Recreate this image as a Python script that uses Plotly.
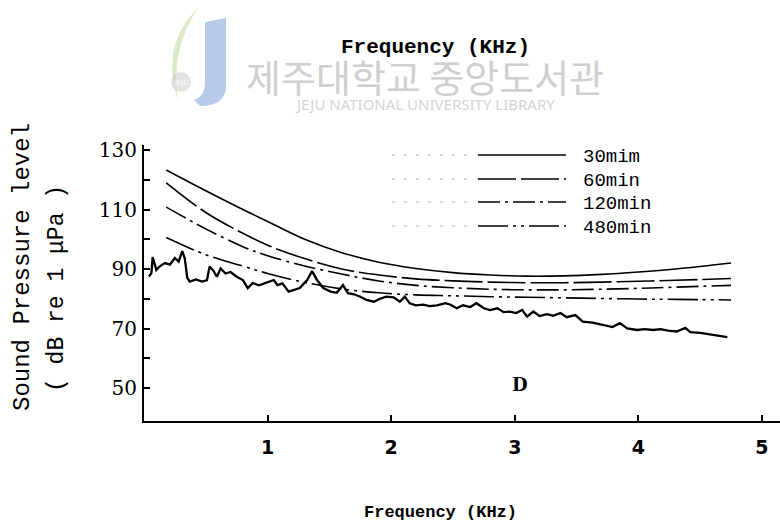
import plotly.graph_objects as go

# ---- exposure criterion curves (frequency in kHz, level in dB re 1 uPa) ----
crit_freq = [0.18, 0.5, 0.8, 1.0, 1.3, 1.6, 1.9, 2.2, 2.5, 2.8, 3.1, 3.4, 3.7, 4.0, 4.3, 4.75]
spl_30min = [123.3, 116.3, 110.0, 106.0, 100.0, 95.5, 92.3, 90.2, 88.8, 88.0, 87.6, 87.7, 88.2, 89.0, 90.0, 92.0]
spl_60min = [119.0, 109.0, 102.0, 98.0, 93.5, 90.0, 88.0, 86.7, 86.0, 85.6, 85.4, 85.4, 85.6, 85.9, 86.2, 86.8]
spl_120min = [110.8, 103.5, 97.5, 94.5, 91.0, 88.3, 86.0, 84.5, 83.7, 83.2, 83.0, 83.0, 83.2, 83.5, 83.9, 84.5]
spl_480min = [100.6, 94.8, 91.0, 88.5, 85.5, 83.3, 82.0, 81.3, 81.0, 80.7, 80.5, 80.3, 80.1, 79.9, 79.8, 79.6]

# ---- measured noise spectrum ----
noise_freq = [0.04, 0.06, 0.07, 0.10, 0.13, 0.17, 0.21, 0.25, 0.28, 0.31, 0.33, 0.35,
              0.37, 0.42, 0.47, 0.51, 0.53, 0.56, 0.59, 0.62, 0.66, 0.70, 0.75, 0.80,
              0.84, 0.88, 0.93, 0.99, 1.05, 1.08, 1.12, 1.17, 1.21, 1.26, 1.32, 1.36,
              1.40, 1.45, 1.51, 1.56, 1.61, 1.65, 1.70, 1.75, 1.80, 1.86, 1.91, 1.96,
              2.02, 2.07, 2.11, 2.15, 2.20, 2.26, 2.31, 2.37, 2.44, 2.48, 2.53, 2.58,
              2.64, 2.69, 2.75, 2.80, 2.86, 2.91, 2.96, 3.01, 3.06, 3.10, 3.15, 3.20,
              3.26, 3.31, 3.37, 3.42, 3.49, 3.55, 3.63, 3.72, 3.79, 3.85, 3.91, 3.99,
              4.05, 4.12, 4.18, 4.24, 4.31, 4.38, 4.42, 4.50, 4.58, 4.66, 4.72]
noise_spl = [87.5, 88.6, 94.0, 89.7, 91.0, 92.0, 91.5, 93.7, 92.5, 96.0, 93.5, 87.0,
             85.8, 86.5, 85.8, 86.3, 90.8, 89.5, 87.4, 90.2, 88.5, 89.0, 87.4, 86.3,
             83.6, 85.3, 84.5, 85.3, 86.3, 84.6, 85.2, 82.4, 83.0, 83.6, 86.3, 89.3,
             86.3, 83.6, 82.4, 82.0, 84.6, 81.9, 81.5, 80.7, 79.6, 79.0, 80.0, 80.7,
             80.5, 79.0, 80.7, 78.5, 77.8, 78.0, 77.5, 77.8, 78.5, 78.0, 76.8, 77.8,
             77.2, 78.5, 76.8, 76.2, 76.8, 75.5, 75.7, 75.2, 76.2, 74.0, 75.7, 74.2,
             74.8, 74.3, 75.2, 73.8, 74.5, 72.3, 72.0, 71.2, 70.5, 71.8, 70.0, 69.5,
             69.8, 69.5, 69.8, 69.3, 69.0, 70.2, 68.8, 68.5, 68.0, 67.5, 67.1]

legend_labels = ["30mim", "60min", "120min", "480min"]
x_ticks = [1, 2, 3, 4, 5]
y_ticks = [50, 60, 70, 80, 90, 100, 110, 120, 130]
y_ticktext = ["50", "", "70", "", "90", "", "110", "", "130"]

W, H = 780, 530
ML, MR, MT, MB = 144, 0, 145, 109
PW, PH = W - ML - MR, H - MT - MB


def fx(px):
    """page pixel -> paper x"""
    return (px - ML) / PW


def fy(py):
    """page pixel -> paper y"""
    return (H - MB - py) / PH


def label(px, py, text, font, xanchor="center", **kw):
    return dict(x=fx(px), y=fy(py), xref="paper", yref="paper", text=text,
                showarrow=False, xanchor=xanchor, yanchor="middle", font=font, **kw)


dashes = ["solid", "38px,5px", "22px,5px,3px,5px", "30px,5px,3px,5px,3px,5px"]
series = [spl_30min, spl_60min, spl_120min, spl_480min]

fig = go.Figure()
for lbl, vals, d in zip(legend_labels, series, dashes):
    fig.add_trace(go.Scatter(x=crit_freq, y=vals, mode="lines", name=lbl,
                             line=dict(color="black", width=1.6, dash=d, shape="spline"),
                             showlegend=False))

fig.add_trace(go.Scatter(x=noise_freq, y=noise_spl, mode="lines", name="D",
                         line=dict(color="black", width=2.3), showlegend=False))

shapes = []
annotations = []

# library watermark (logo + text), drawn faintly behind the chart
shapes.append(dict(type="path", xref="paper", yref="paper", layer="below",
                   path=f"M {fx(205)} {fy(22)} L {fx(226)} {fy(18)} L {fx(226)} {fy(88)} "
                        f"Q {fx(224)} {fy(106)} {fx(200)} {fy(106)} L {fx(194)} {fy(100)} "
                        f"Q {fx(206)} {fy(96)} {fx(205)} {fy(80)} Z",
                   fillcolor="rgba(120,160,215,0.55)", line=dict(width=0)))
shapes.append(dict(type="path", xref="paper", yref="paper", layer="below",
                   path=f"M {fx(198)} {fy(8)} Q {fx(160)} {fy(45)} {fx(178)} {fy(100)} "
                        f"Q {fx(170)} {fy(50)} {fx(198)} {fy(8)} Z",
                   fillcolor="rgba(190,215,150,0.55)", line=dict(width=0)))
shapes.append(dict(type="circle", xref="paper", yref="paper", layer="below",
                   x0=fx(171), x1=fx(191), y0=fy(92), y1=fy(72),
                   fillcolor="rgba(200,200,200,0.5)", line=dict(width=0)))
annotations.append(label(181, 82, "JEJU", dict(family="Noto Sans", size=7, color="#ffffff")))
annotations.append(label(425, 75, "제주대학교 중앙도서관",
                         dict(family="Noto Sans CJK KR", size=38, color="#cfcfcf")))
annotations.append(label(425, 104, "JEJU NATIONAL UNIVERSITY LIBRARY",
                         dict(family="Noto Sans", size=15, color="#d4d4d4")))

# top and bottom titles
annotations.append(label(435, 47, "Frequency (KHz)",
                         dict(family="Liberation Mono", size=21, color="black", weight="bold")))
annotations.append(label(440, 512, "Frequency (KHz)",
                         dict(family="Liberation Mono", size=17, color="black", weight="bold")))

# y axis title, two rotated lines
annotations.append(label(22, 267, "Sound Pressure level",
                         dict(family="Liberation Mono", size=24, color="black"), textangle=-90))
annotations.append(label(57, 289, "( dB re 1 μPa )",
                         dict(family="Liberation Mono", size=23, color="black"), textangle=-90))

# panel letter
annotations.append(dict(x=3.04, y=51.3, xref="x", yref="y", text="D", showarrow=False,
                        xanchor="center", yanchor="middle",
                        font=dict(family="DejaVu Serif", size=18, color="black", weight="bold")))

# legend: faint leader + line sample + label
legend_rows = [155, 179, 202, 226]
for lbl, d, py in zip(legend_labels, dashes, legend_rows):
    shapes.append(dict(type="line", xref="paper", yref="paper",
                       x0=fx(392), x1=fx(475), y0=fy(py), y1=fy(py),
                       line=dict(color="#b0b0b0", width=1, dash="3px,9px")))
    shapes.append(dict(type="line", xref="paper", yref="paper",
                       x0=fx(478), x1=fx(566), y0=fy(py), y1=fy(py),
                       line=dict(color="black", width=1.3, dash=d)))
    annotations.append(label(581, py + 2, lbl,
                             dict(family="Liberation Mono", size=19, color="black"),
                             xanchor="left"))

fig.update_layout(
    width=W, height=H,
    margin=dict(l=ML, r=MR, t=MT, b=MB),
    paper_bgcolor="white", plot_bgcolor="white",
    shapes=shapes, annotations=annotations,
    xaxis=dict(range=[0, 5.146], showline=True, linecolor="black", linewidth=2,
               ticks="inside", ticklen=6, tickwidth=1.5, tickcolor="black",
               tickvals=x_ticks, showgrid=False, zeroline=False,
               ticklabelstandoff=8,
               tickfont=dict(family="DejaVu Sans", size=19, color="black", weight="bold")),
    yaxis=dict(range=[38.9, 131.7], showline=True, linecolor="black", linewidth=2,
               ticks="inside", ticklen=6, tickwidth=1.5, tickcolor="black",
               tickvals=y_ticks, ticktext=y_ticktext, showgrid=False, zeroline=False,
               ticklabelstandoff=1,
               tickfont=dict(family="DejaVu Serif", size=20, color="black")),
)

fig.write_html("out.html")
